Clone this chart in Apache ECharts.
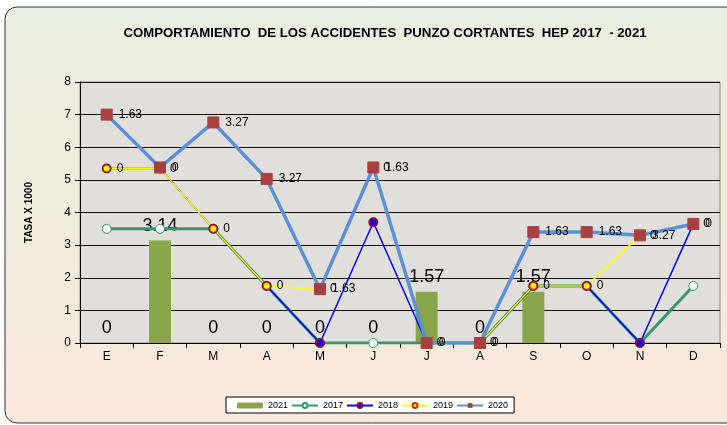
<!DOCTYPE html>
<html>
<head>
<meta charset="utf-8">
<script src="https://cdn.jsdelivr.net/npm/echarts@6/dist/echarts.min.js"></script>
<style>
html,body{margin:0;padding:0;background:#fff;}
#main{width:727px;height:425px;}
</style>
</head>
<body>
<div id="main"></div>
<script>
var meses = ['E','F','M','A','M','J','J','A','S','O','N','D'];
var t2021 = [0, 3.14, 0, 0, 0, 0, 1.57, 0, 1.57, null, null, null];
var t2017 = [3.5, 3.5, 3.5, 1.75, 0, 0, 0, 0, 1.75, 1.75, 0, 1.75];
var t2018 = [5.35, 5.35, 3.5, 1.75, 0, 3.7, 0, 0, 1.75, 1.75, 0, 3.65];
var t2019 = [5.35, 5.35, 3.5, 1.75, 1.65, 5.38, 0, 0, 1.75, 1.75, 3.3, 3.65];
var t2020 = [7.0, 5.38, 6.76, 5.03, 1.65, 5.38, 0, 0, 3.4, 3.4, 3.3, 3.65];
// etiquetas tal como salen en la grafica original
var etq2019 = ['0','0','0','0','0','0','0','0','0','0','0','0'];
var etq2020 = ['1.63','0','3.27','3.27','1.63','1.63','0','0','1.63','1.63','3.27','0'];

var fuente = 'Liberation Sans, Arial, sans-serif';
var chart = echarts.init(document.getElementById('main'));
chart.setOption({
    textStyle: {fontFamily: fuente},
    graphic: [{
        type: 'rect',
        z: -10,
        shape: {x: 5, y: 7, width: 760, height: 416, r: 12},
        style: {
            fill: new echarts.graphic.LinearGradient(0, 0, 0, 1, [
                {offset: 0, color: '#eaeee0'},
                {offset: 0.6, color: '#f0ecdc'},
                {offset: 1, color: '#fbe8dc'}
            ]),
            stroke: '#333',
            lineWidth: 1
        }
    }],
    title: {
        text: 'COMPORTAMIENTO  DE LOS ACCIDENTES  PUNZO CORTANTES  HEP 2017  - 2021',
        left: 380,
        textAlign: 'center',
        top: 22,
        textStyle: {fontSize: 13.2, fontWeight: 'bold', color: '#000', fontFamily: fuente}
    },
    legend: {
        data: ['2021','2017','2018','2019','2020'],
        left: 226,
        top: 397,
        backgroundColor: '#fff',
        borderColor: '#000',
        borderWidth: 1,
        borderRadius: 0,
        padding: [4, 6, 3, 11],
        itemGap: 3,
        itemWidth: 26,
        itemHeight: 6,
        textStyle: {fontSize: 9, color: '#000'}
    },
    grid: {
        left: 80,
        right: 7,
        top: 82,
        bottom: 82,
        show: true,
        backgroundColor: '#e1dfdc',
        borderColor: '#8a8a8a',
        borderWidth: 1
    },
    xAxis: {
        type: 'category',
        data: meses,
        axisLine: {lineStyle: {color: '#000', width: 1}},
        axisTick: {show: true, length: 5, lineStyle: {color: '#000'}},
        axisLabel: {fontSize: 12, color: '#000', margin: 8}
    },
    yAxis: {
        type: 'value',
        min: 0,
        max: 8,
        interval: 1,
        name: 'TASA X 1000',
        nameLocation: 'middle',
        nameGap: 46,
        nameTextStyle: {fontSize: 10, fontWeight: 'bold', color: '#000'},
        axisLine: {show: true, lineStyle: {color: '#000'}},
        axisTick: {show: true, inside: false, length: 5, lineStyle: {color: '#000'}},
        axisLabel: {fontSize: 12, color: '#000', margin: 9},
        splitLine: {lineStyle: {color: '#111', width: 1.2}}
    },
    series: [
        {
            name: '2021',
            type: 'bar',
            data: t2021,
            barWidth: 22,
            itemStyle: {color: '#8aa64b'},
            label: {show: true, position: 'top', distance: 6, fontSize: 18, color: '#000'}
        },
        {
            name: '2017',
            type: 'line',
            data: t2017,
            lineStyle: {color: '#339966', width: 3},
            symbol: 'circle',
            symbolSize: 9,
            itemStyle: {color: '#ffffff', borderColor: '#339966', borderWidth: 1}
        },
        {
            name: '2018',
            type: 'line',
            data: t2018,
            lineStyle: {color: '#0000ff', width: 1.5},
            symbol: 'circle',
            symbolSize: 8,
            itemStyle: {color: '#0000ff', borderColor: '#8b0a2a', borderWidth: 2}
        },
        {
            name: '2019',
            type: 'line',
            data: t2019,
            lineStyle: {color: '#ffff00', width: 1.5},
            symbol: 'circle',
            symbolSize: 7,
            itemStyle: {color: '#ffff00', borderColor: '#cc2a00', borderWidth: 1},
            label: {
                show: true, position: 'right', distance: 6, fontSize: 12, color: '#000',
                formatter: function (p) { return etq2019[p.dataIndex]; }
            }
        },
        {
            name: '2020',
            type: 'line',
            data: t2020,
            lineStyle: {color: '#5b8fd6', width: 3.5},
            symbol: 'rect',
            symbolSize: 11,
            itemStyle: {color: '#a8403f', borderColor: '#a8403f'},
            label: {
                show: true, position: 'right', distance: 6, fontSize: 12, color: '#000',
                formatter: function (p) { return etq2020[p.dataIndex]; }
            }
        }
    ]
});
</script>
</body>
</html>
